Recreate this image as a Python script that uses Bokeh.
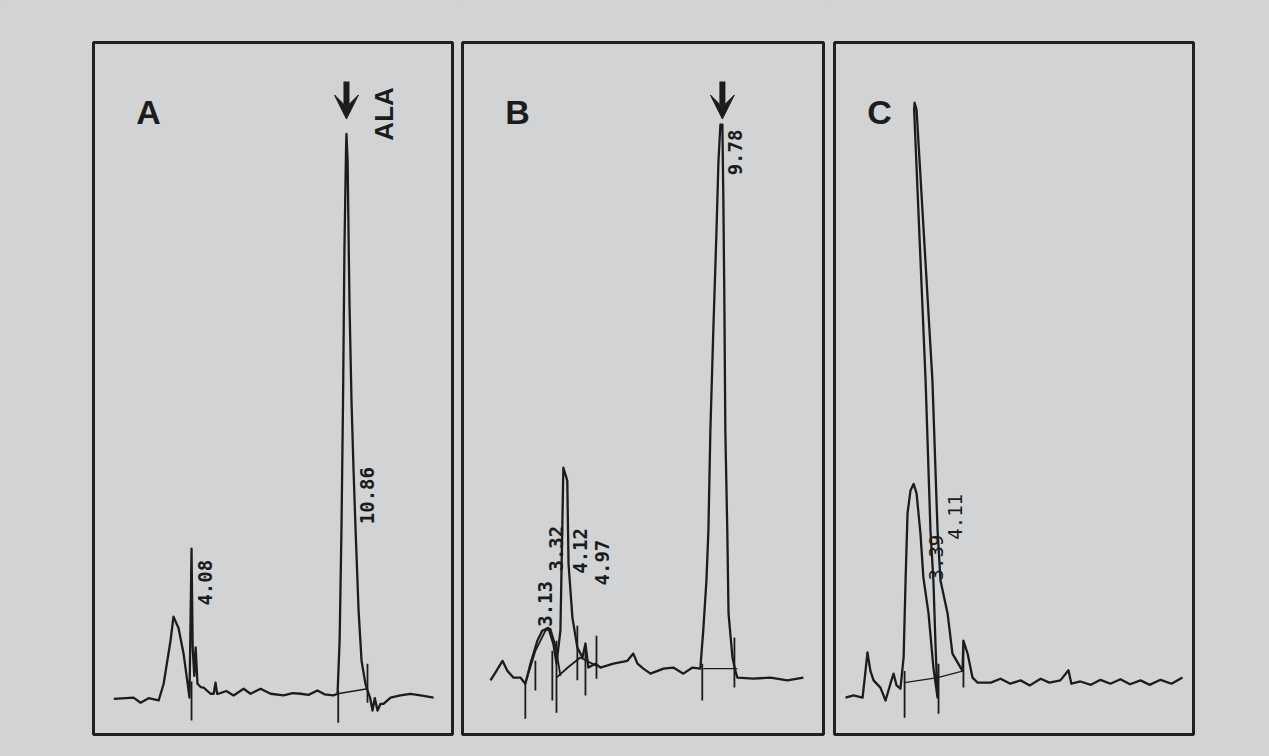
import math
from bokeh.plotting import figure
from bokeh.layouts import row
from bokeh.models import Range1d, Arrow, VeeHead
from bokeh.core.properties import value
from bokeh.embed import file_html
from bokeh.resources import INLINE

BG = "#d1d3d4"
INK = "#1c1c1c"

# ---------------- Panel A (time in min, response in % of ALA peak) ----------------
a_time = [0.68, 1.54, 1.85, 2.20, 2.64, 2.86, 3.16, 3.29, 3.51, 3.73, 3.91, 3.99, 4.08, 4.13,
          4.20, 4.26, 4.34, 4.48, 4.61, 4.91, 5.05, 5.13, 5.20, 5.26, 5.60, 5.92, 6.36, 6.66,
          7.10, 7.54, 8.11, 8.50, 8.85, 9.20, 9.59, 9.90, 10.29, 10.47, 10.56, 10.64, 10.71,
          10.77, 10.84, 10.86, 10.91, 10.99, 11.08, 11.17, 11.26, 11.39, 11.52, 11.69, 11.78,
          11.90, 12.00, 12.10, 12.22, 12.35, 12.48, 12.79, 13.22, 13.66, 14.10, 14.67]
a_signal = [-1.1, -0.9, -1.8, -1.0, -1.4, 1.6, 9.3, 13.6, 11.6, 7.0, 1.6, -0.9, 25.8, 8.0,
            3.0, 8.1, 1.6, 1.0, 0.9, -0.2, -0.2, 1.8, -0.2, -0.2, 0.3, -0.5, 0.7, -0.2,
            0.7, -0.2, -0.5, -0.1, -0.2, -0.4, 0.4, -0.3, -0.5, -0.2, 9.3, 29.0, 52.3,
            79.2, 97.1, 100.1, 95.3, 70.2, 52.3, 39.8, 29.0, 14.7, 5.7, 1.6, 0.4,
            -1.0, -3.2, -1.0, -3.2, -2.0, -2.0, -0.9, -0.5, -0.2, -0.5, -0.9]
a_peak_labels = ["4.08", "10.86"]
a_label_time = [4.69, 11.78]
a_label_signal = [19.7, 35.3]
a_base_time = [10.47, 11.78]
a_base_signal = [-0.2, 0.7]
a_marker_time = [4.08, 10.50, 11.78]
a_marker_low = [-5.0, -5.4, -1.8]
a_marker_high = [2.0, 0.4, 5.2]
a_title = "A"
a_title_pos = [2.20, 104.1]
a_compound = "ALA"
a_compound_pos = [12.52, 103.7]
a_arrow = [10.86, 109.5, 102.8]

# ---------------- Panel B ----------------
b_time = [0.35, 0.55, 0.84, 1.04, 1.28, 1.57, 1.77, 1.98, 2.26, 2.46, 2.71, 2.91, 3.04, 3.20,
          3.32, 3.48, 3.53, 3.69, 3.89, 4.10, 4.22, 4.34, 4.62, 4.83, 5.36, 5.93, 6.17, 6.34,
          6.58, 6.87, 7.40, 7.80, 8.21, 8.58, 8.90, 9.02, 9.15, 9.23, 9.31, 9.43, 9.56, 9.64,
          9.72, 9.80, 9.84, 9.88, 9.92, 10.00, 10.05, 10.21, 10.33, 10.41, 11.06, 11.76,
          12.45, 13.10]
b_signal = [2.2, 3.6, 5.7, 3.9, 2.7, 2.7, 1.6, 5.2, 9.3, 11.1, 11.6, 8.8, 5.2, 11.1,
            40.3, 38.0, 23.1, 13.4, 8.1, 6.3, 8.8, 4.5, 5.2, 4.5, 5.2, 5.7, 7.0, 5.2,
            4.3, 3.4, 4.3, 4.5, 3.4, 4.5, 4.3, 11.1, 20.1, 29.0, 46.9, 64.9, 82.8, 95.3,
            101.8, 101.8, 88.2, 70.2, 46.9, 29.0, 14.2, 6.3, 3.9, 2.7, 2.5, 2.7,
            2.2, 2.7]
b_hump_time = [1.77, 2.18, 2.59, 2.79, 3.00, 3.20]
b_hump_signal = [1.6, 7.5, 11.1, 11.5, 8.4, 3.0]
b_arc_time = [3.04, 3.50, 4.01, 4.67]
b_arc_signal = [2.7, 4.5, 6.3, 4.8]
b_peak_labels = ["3.13", "3.32", "4.12", "4.97", "9.78"]
b_label_time = [2.59, 3.00, 4.01, 4.91, 10.33]
b_label_signal = [15.9, 25.8, 25.4, 23.3, 96.8]
b_base_time = [9.02, 10.41]
b_base_signal = [4.3, 4.3]
b_marker_time = [1.77, 2.18, 2.87, 3.04, 3.89, 4.22, 4.67, 8.98, 10.29]
b_marker_low = [-4.7, 0.4, -1.4, -3.6, 2.2, -0.5, 2.5, -1.4, 0.9]
b_marker_high = [1.6, 5.7, 7.5, 9.3, 12.0, 7.5, 10.2, 5.2, 9.9]
b_title = "B"
b_title_pos = [1.45, 104.1]
b_arrow = [9.80, 109.5, 102.8]

# ---------------- Panel C ----------------
c_time = [0.55, 0.88, 1.25, 1.37, 1.45, 1.57, 1.70, 1.98, 2.19, 2.39, 2.52, 2.64, 2.80, 2.93,
          3.01, 3.09, 3.21, 3.34, 3.46, 3.62, 3.74, 3.95, 4.15, 4.32,
          4.24, 4.15, 4.03, 3.83, 3.36, 3.38, 3.46, 4.11, 4.32, 4.44, 4.73, 4.93, 5.34, 5.38,
          5.55, 5.75, 5.96, 6.08, 6.50, 6.90, 7.30, 7.72, 8.10, 8.54, 8.90, 9.35, 9.68, 9.80,
          10.17, 10.60, 10.99, 11.40, 11.81, 12.20, 12.63, 13.00, 13.45, 13.90, 14.35]
c_signal = [-0.9, -0.5, -0.9, 3.9, 7.2, 3.9, 2.2, 0.9, -1.4, 1.6, 3.4, 1.3, 0.7, 6.3,
            20.1, 32.1, 36.2, 37.4, 35.7, 28.5, 20.6, 14.2, 4.5, -0.9,
            8.1, 20.1, 29.0, 55.9, 104.5, 105.7, 104.5, 55.9, 29.0, 20.1, 14.2, 7.0, 3.9, 9.3,
            7.0, 2.7, 1.8, 1.8, 1.8, 2.5, 1.6, 2.2, 1.3, 2.5, 1.8, 2.2, 4.0, 1.6,
            2.0, 1.4, 2.3, 1.6, 2.4, 1.5, 2.2, 1.4, 2.3, 1.6, 2.7]
c_peak_labels = ["3.39", "4.11"]
c_label_time = [4.24, 5.05]
c_label_signal = [24.2, 31.5]
c_base_time = [2.97, 4.32, 5.38]
c_base_signal = [1.8, 2.7, 3.9]
c_marker_time = [2.97, 4.36, 5.38]
c_marker_low = [-4.5, -3.8, 0.9]
c_marker_high = [3.9, 5.2, 9.3]
c_title = "C"
c_title_pos = [1.94, 104.1]

signal_range = (-7.5, 116.5)


def panel(width, left, right, xr):
    p = figure(width=width, height=756, output_backend="svg", toolbar_location=None,
               x_range=Range1d(*xr), y_range=Range1d(*signal_range),
               x_axis_location=None, y_axis_location=None,
               min_border_left=left, min_border_right=right,
               min_border_top=42, min_border_bottom=22)
    p.grid.visible = False
    p.background_fill_color = BG
    p.border_fill_color = BG
    p.outline_line_color = "#231f20"
    p.outline_line_width = 3
    return p


def draw(p, t, s, base_t, base_s, mk_t, mk_lo, mk_hi, labels, lt, ls, bold):
    p.line(t, s, line_color=INK, line_width=2.3, line_join="round")
    p.line(base_t, base_s, line_color=INK, line_width=1.4)
    p.segment(x0=mk_t, y0=mk_lo, x1=mk_t, y1=mk_hi, line_color=INK, line_width=1.8)
    p.text(x=lt, y=ls, text=labels, angle=math.pi / 2, text_align="center",
           text_baseline="middle", text_color=INK, text_font=value("DejaVu Sans Mono"),
           text_font_size="19px", text_font_style="bold" if bold else "normal")


def big_letter(p, txt, pos):
    p.text(x=[pos[0]], y=[pos[1]], text=[txt], text_align="center", text_baseline="middle",
           text_color=INK, text_font=value("Liberation Sans"), text_font_size="34px",
           text_font_style="bold")


def arrow(p, a):
    p.add_layout(Arrow(end=VeeHead(size=24, fill_color=INK, line_color=INK, line_width=1),
                       x_start=a[0], y_start=a[1], x_end=a[0], y_end=a[2],
                       line_color=INK, line_width=6))


pa = panel(457, 93, 5, (-0.21, 15.50))
draw(pa, a_time, a_signal, a_base_time, a_base_signal, a_marker_time, a_marker_low,
     a_marker_high, a_peak_labels, a_label_time, a_label_signal, True)
big_letter(pa, a_title, a_title_pos)
pa.text(x=[a_compound_pos[0]], y=[a_compound_pos[1]], text=[a_compound], angle=math.pi / 2,
        text_align="center", text_baseline="middle", text_color=INK,
        text_font=value("Liberation Sans"), text_font_size="26px", text_font_style="bold")
arrow(pa, a_arrow)

pb = panel(371, 5, 5, (-0.79, 13.92))
pb.line(b_hump_time, b_hump_signal, line_color=INK, line_width=1.8)
pb.line(b_arc_time, b_arc_signal, line_color=INK, line_width=1.8)
draw(pb, b_time, b_signal, b_base_time, b_base_signal, b_marker_time, b_marker_low,
     b_marker_high, b_peak_labels, b_label_time, b_label_signal, True)
big_letter(pb, b_title, b_title_pos)
arrow(pb, b_arrow)

pc = panel(441, 6, 76, (0.10, 14.80))
draw(pc, c_time, c_signal, c_base_time, c_base_signal, c_marker_time, c_marker_low,
     c_marker_high, c_peak_labels, c_label_time, c_label_signal, False)
big_letter(pc, c_title, c_title_pos)

layout = row(pa, pb, pc, spacing=0, styles={"background-color": BG})
p = layout
open("out.html", "w").write(file_html(p, INLINE))
